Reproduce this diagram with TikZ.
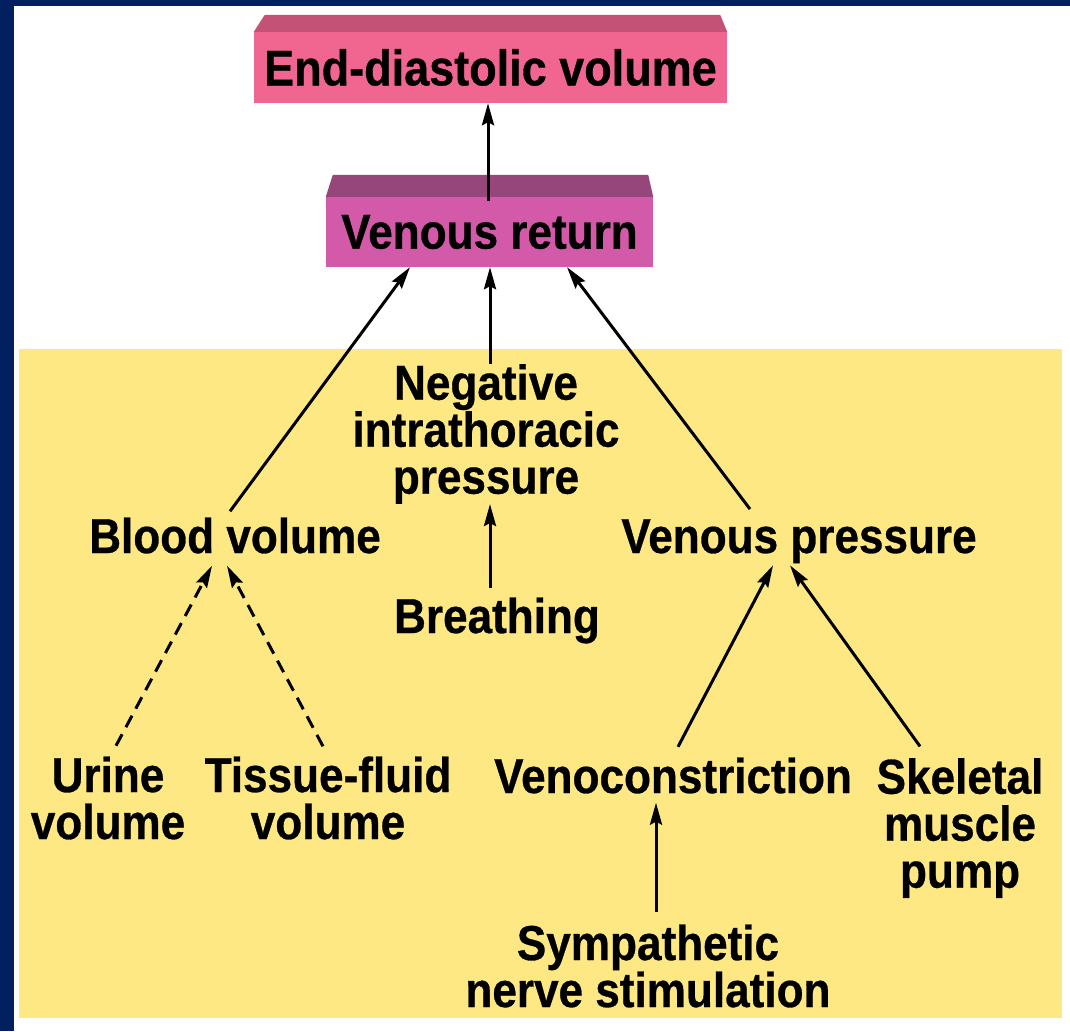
\documentclass[tikz,border=0pt]{standalone}
\usepackage{fontspec}
\newfontfamily\hv{Liberation Sans}[FakeStretch=0.9, BoldFeatures={FakeBold=0.6}]
\usetikzlibrary{arrows.meta}
\definecolor{navy}{RGB}{0,32,96}
\definecolor{bgyellow}{RGB}{253,232,131}
\definecolor{edvfront}{RGB}{240,102,144}
\definecolor{edvtop}{RGB}{196,82,118}
\definecolor{vrfront}{RGB}{210,90,168}
\definecolor{vrtop}{RGB}{150,70,122}
\tikzset{
  lbl/.style={font={\hv\bfseries\fontsize{49}{47}\selectfont}, inner sep=0pt, align=center, text=black},
  boxlbl/.style={inner sep=0pt, text=black},
  arr/.style={line width=3pt, -{Stealth[length=22pt,width=12pt,inset=3pt]}},
  darr/.style={arr, dash pattern=on 13pt off 8pt}
}
\begin{document}
\begin{tikzpicture}[x=1pt,y=-1pt]
\useasboundingbox (0,0) rectangle (1070,1031);
% frame
\fill[white] (0,0) rectangle (1070,1031);
\fill[navy] (0,0) rectangle (1070,6);
\fill[navy] (0,0) rectangle (14,1031);
% yellow panel
\fill[bgyellow] (19,349) rectangle (1062,1018);

% boxes
\node[boxlbl, fill=edvfront, minimum width=473pt, minimum height=71pt,
      font={\hv\bfseries\fontsize{50}{50}\selectfont}] (edv) at (490.5,67.5) {End-diastolic volume};
\fill[edvtop] (edv.north west) -- ([xshift=11pt,yshift=17pt]edv.north west)
   -- ([xshift=-7pt,yshift=17pt]edv.north east) -- (edv.north east) -- cycle;

\node[boxlbl, fill=vrfront, minimum width=327pt, minimum height=70pt,
      font={\hv\bfseries\fontsize{49}{49}\selectfont}] (vr) at (489.5,232) {Venous return};
\fill[vrtop] (vr.north west) -- ([xshift=7pt,yshift=22pt]vr.north west)
   -- ([xshift=-5pt,yshift=22pt]vr.north east) -- (vr.north east) -- cycle;

% labels
\node[lbl] (neg) at (486,434) {Negative\\intrathoracic\\pressure};
\node[lbl, anchor=base] (bv) at (235,553) {Blood volume};
\node[lbl, anchor=base] (vp) at (799,553) {Venous pressure};
\node[lbl, anchor=base] (br) at (497,633) {Breathing};
\node[lbl] (ur) at (108,798) {Urine\\volume};
\node[lbl] (tf) at (328,798) {Tissue-fluid\\volume};
\node[lbl, anchor=base] (vc) at (673,793) {Venoconstriction};
\node[lbl] (sk) at (960,828) {Skeletal\\muscle\\pump};
\node[lbl] (sy) at (648,966) {Sympathetic\\nerve stimulation};

% connectors
\draw[arr] ([xshift=-1.5pt,yshift=-4pt]vr.north) -- ([xshift=-2.5pt]edv.south);
\draw[arr] ([xshift=-5pt,yshift=6pt]bv.north) -- ([xshift=-79.5pt]vr.south);
\draw[arr] ([xshift=4pt]neg.north) -- ([xshift=0.5pt]vr.south);
\draw[arr] ([xshift=-49pt,yshift=10pt]vp.north) -- ([xshift=77.5pt]vr.south);
\draw[arr] ([xshift=-7pt,yshift=9pt]br.north) -- ([xshift=4pt]neg.south);
\draw[darr] ([xshift=8pt,yshift=10.6pt]ur.north) -- ([xshift=-23pt,yshift=-12pt]bv.south);
\draw[darr] ([xshift=-5pt,yshift=10pt]tf.north) -- ([xshift=-8pt,yshift=-12pt]bv.south);
\draw[arr] ([xshift=5pt,yshift=10.5pt]vc.north) -- ([xshift=-26pt,yshift=-2pt]vp.south);
\draw[arr] ([xshift=-40pt,yshift=11.6pt]sk.north) -- ([xshift=-9pt,yshift=-2pt]vp.south);
\draw[arr] ([xshift=8pt,yshift=12pt]sy.north) -- ([xshift=-17pt,yshift=-9pt]vc.south);
\end{tikzpicture}
\end{document}
